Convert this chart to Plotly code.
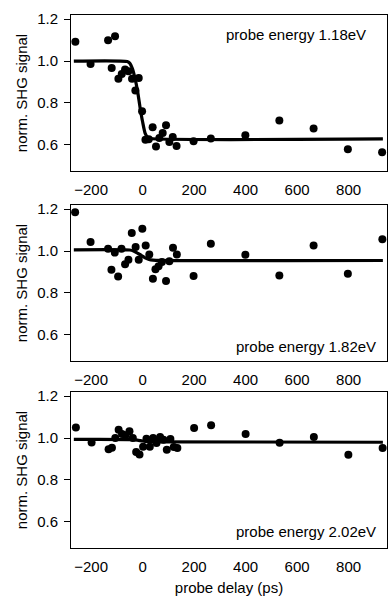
import plotly.graph_objects as go

# ---- data ----
delay1 = [-261, -202, -134, -120, -107, -94, -81, -68, -55, -41, -28, -15, -2, 11, 24, 39, 52, 65, 78, 91, 104, 117, 132, 198, 265, 399, 531, 664, 797, 930]
signal1 = [1.092, 0.986, 1.100, 0.967, 1.119, 0.916, 0.938, 0.960, 0.951, 0.916, 0.859, 0.919, 0.760, 0.624, 0.627, 0.684, 0.592, 0.633, 0.656, 0.694, 0.614, 0.637, 0.595, 0.617, 0.630, 0.646, 0.716, 0.678, 0.579, 0.564]

delay2 = [-262, -202, -134, -121, -108, -95, -82, -68, -55, -42, -27, -15, -1, 12, 26, 40, 50, 62, 75, 91, 104, 118, 133, 198, 265, 399, 531, 664, 797, 931]
signal2 = [1.186, 1.043, 1.011, 0.911, 0.993, 0.879, 1.011, 0.937, 0.959, 1.086, 1.020, 0.959, 1.107, 1.027, 0.984, 0.868, 0.913, 0.927, 0.948, 0.857, 0.952, 1.016, 0.984, 0.881, 1.035, 0.983, 0.883, 1.027, 0.892, 1.057]

delay3 = [-259, -198, -132, -119, -106, -93, -80, -66, -51, -38, -25, -12, 2, 15, 28, 41, 54, 68, 81, 94, 108, 121, 135, 200, 266, 400, 532, 665, 799, 932]
signal3 = [1.051, 0.979, 0.947, 0.954, 1.000, 1.040, 1.019, 1.013, 1.032, 1.000, 0.933, 0.922, 0.958, 0.997, 0.958, 1.000, 0.976, 1.005, 0.992, 0.944, 0.995, 0.957, 0.952, 1.048, 1.061, 1.019, 0.978, 1.005, 0.920, 0.952]

fit1_x = [-267, -60, -50, -40, -30, -20, -10, 0, 10, 20, 30, 933]
fit1_y = [1.0, 0.998, 0.99, 0.965, 0.92, 0.86, 0.78, 0.71, 0.655, 0.635, 0.630, 0.628]

fit2_x = [-267, -50, -35, -20, -5, 10, 25, 40, 933]
fit2_y = [1.006, 1.005, 1.0, 0.99, 0.98, 0.968, 0.96, 0.957, 0.955]

fit3_x = [-267, -40, -20, 0, 20, 40, 933]
fit3_y = [0.994, 0.993, 0.99, 0.986, 0.983, 0.982, 0.980]

labels = ["probe energy 1.18eV", "probe energy 1.82eV", "probe energy 2.02eV"]
x_ticks = [-200, 0, 200, 400, 600, 800]
y_ticks = [0.6, 0.8, 1.0, 1.2]

FONT = "Liberation Sans, Arial, Helvetica, sans-serif"

fig = go.Figure()
panels = [(delay1, signal1, fit1_x, fit1_y), (delay2, signal2, fit2_x, fit2_y), (delay3, signal3, fit3_x, fit3_y)]
for i, (dx, dy, fx, fy) in enumerate(panels, start=1):
    xa = "x" if i == 1 else f"x{i}"
    ya = "y" if i == 1 else f"y{i}"
    fig.add_trace(go.Scatter(x=fx, y=fy, mode="lines", line=dict(color="black", width=3.2, shape="spline", smoothing=0.6),
                             xaxis=xa, yaxis=ya, showlegend=False, hoverinfo="skip", cliponaxis=False))
    fig.add_trace(go.Scatter(x=dx, y=dy, mode="markers", marker=dict(color="black", size=8, line=dict(width=0)),
                             xaxis=xa, yaxis=ya, showlegend=False, cliponaxis=False))

domains = [[0.7073, 1.0], [0.3508, 0.6435], [0.0, 0.2927]]
xr = [-278, 949]
yr = [0.475, 1.22]
ann_pos = [(0.94, 0.872), (0.972, 0.092), (0.972, 0.105)]

layout = dict(
    width=388, height=596,
    margin=dict(l=71, r=1, t=15, b=48),
    paper_bgcolor="white", plot_bgcolor="white",
    font=dict(family=FONT, size=15, color="black"),
    showlegend=False,
    annotations=[],
)
for i in range(1, 4):
    sfx = "" if i == 1 else str(i)
    layout[f"xaxis{sfx}"] = dict(
        domain=[0, 1], range=xr, anchor=f"y{sfx}", tickvals=x_ticks,
        ticks="outside", ticklen=5, tickcolor="rgba(0,0,0,0)",
        showline=True, linecolor="black", linewidth=1, mirror=True,
        showgrid=False, zeroline=False, tickfont=dict(size=15),
        title=dict(text="probe delay (ps)" if i == 3 else "", font=dict(size=15), standoff=8),
    )
    layout[f"yaxis{sfx}"] = dict(
        domain=domains[i - 1], range=yr, anchor=f"x{sfx}", tickvals=y_ticks, ticktext=[f"{v:.1f}" for v in y_ticks],
        ticks="outside", ticklen=6, tickwidth=1, tickcolor="black", ticklabelstandoff=3,
        showline=True, linecolor="black", linewidth=1, mirror=True,
        showgrid=False, zeroline=False, tickfont=dict(size=15),
        title=dict(text="norm. SHG signal", font=dict(size=15), standoff=5),
    )
    # top tick marks (overlay axis)
    layout[f"xaxis{i + 3}"] = dict(
        overlaying=f"x{sfx}" if sfx else "x", side="top", anchor=f"y{sfx}", range=xr, tickvals=x_ticks,
        ticks="outside", ticklen=8, tickwidth=1, tickcolor="black", showticklabels=False,
        showline=False, showgrid=False, zeroline=False,
    )
    ax, ay = ann_pos[i - 1]
    layout["annotations"].append(dict(
        text=labels[i - 1], xref=f"x{sfx} domain", yref=f"y{sfx} domain", x=ax, y=ay,
        xanchor="right", yanchor="middle", showarrow=False, font=dict(size=15),
    ))

fig.update_layout(**layout)
fig.write_html("out.html",
               config={"displayModeBar": False},
               post_script="document.body.style.margin='0';document.body.style.overflow='hidden';")
